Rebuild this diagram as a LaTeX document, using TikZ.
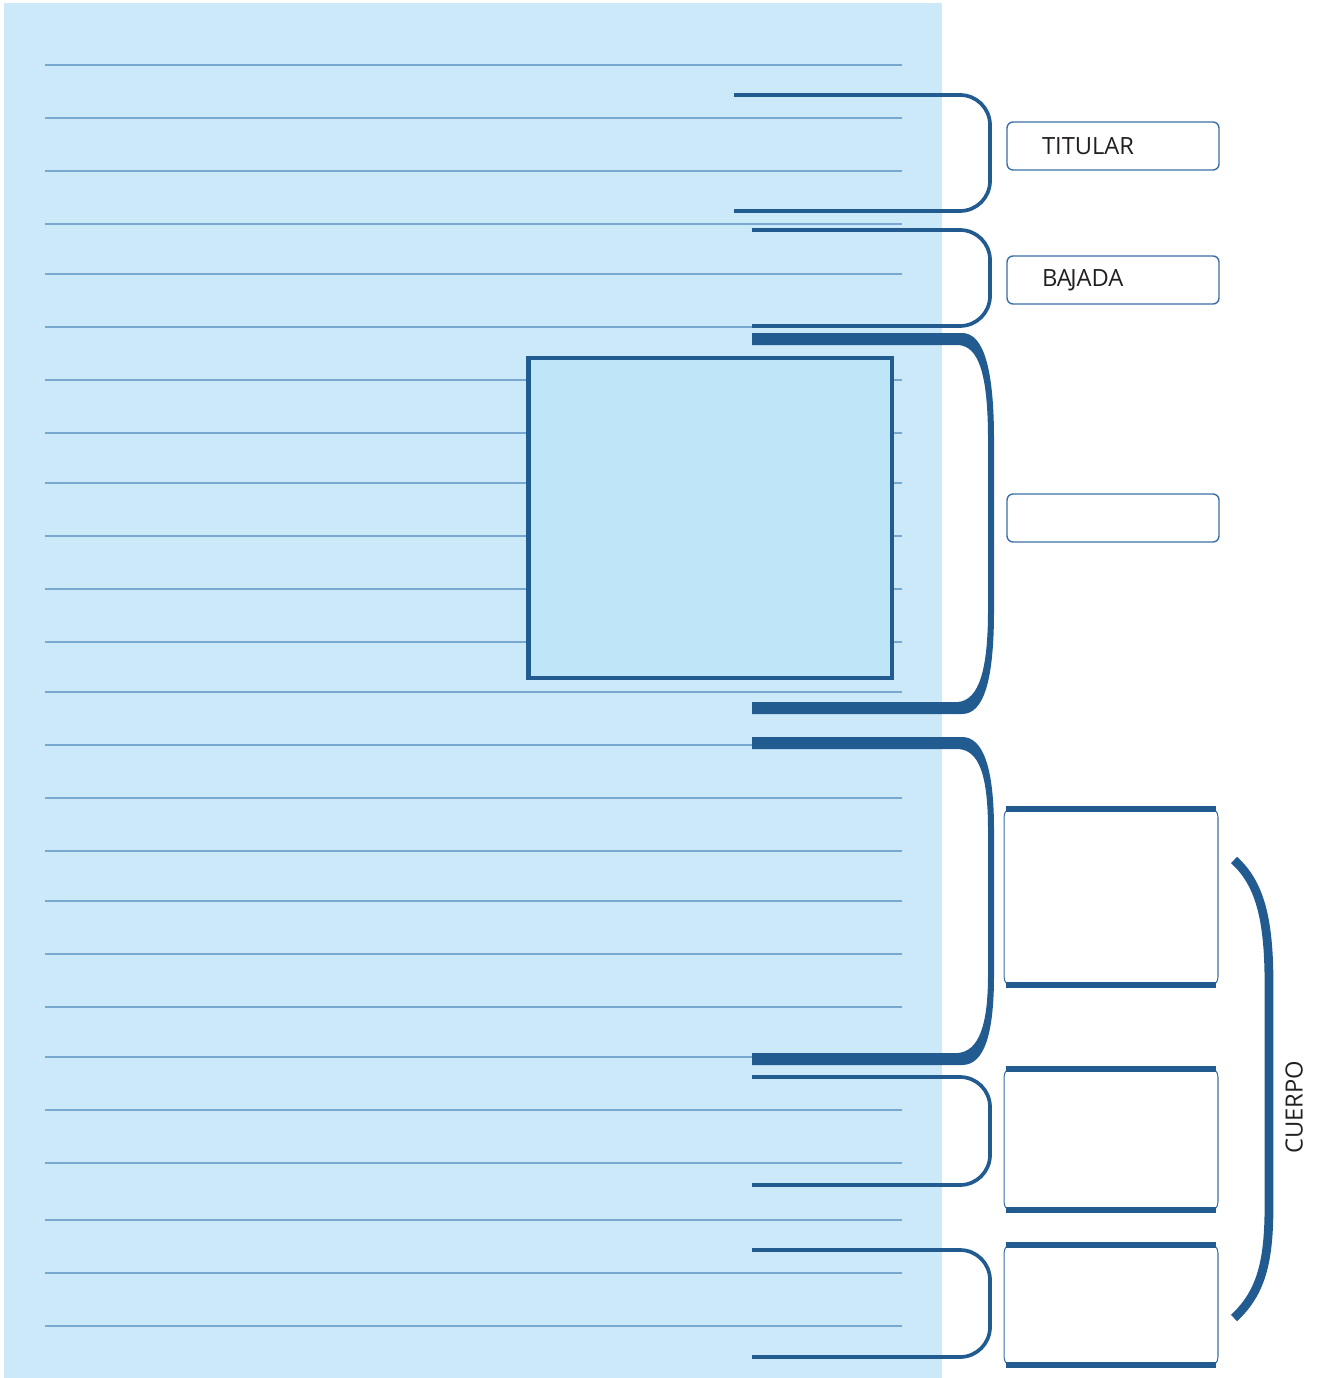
\documentclass[tikz,border=0pt]{standalone}
\usepackage{xcolor}
\usepackage{fontspec}
\setmainfont{Open Sans}
\usepackage{tikz}
\usetikzlibrary{
    positioning
}

\definecolor{sheetblue}{HTML}{CBE9F9}
\definecolor{ruleblue}{HTML}{78A8D0}
\definecolor{darkblue}{HTML}{215B8F}
\definecolor{photoblue}{HTML}{BEE6F8}
\definecolor{boxblue}{HTML}{3B6FA6}
\definecolor{textgray}{HTML}{231F20}

\begin{document}
\begin{tikzpicture}[
    x=0.02cm, y=-0.02cm,
    rule/.style={
        draw=ruleblue,
        line width=1.4pt
    },
    brace/.style={
        draw=darkblue,
        line width=2.1pt,
        rounded corners=0.6cm
    },
    labelbox/.style={
        draw=boxblue,
        line width=0.8pt,
        rounded corners=0.12cm,
        minimum height=0.96cm,
        text width=2.84cm,
        inner xsep=0.7cm,
        inner ysep=0pt,
        align=left,
        text=textgray,
        font=\fontsize{13.5}{16}\selectfont
    },
    bodybox/.style={
        draw=boxblue,
        line width=0.6pt,
        rounded corners=0.2cm,
        minimum width=4.28cm,
        inner sep=0pt
    },
    bar/.style={
        draw=darkblue,
        line width=3.4pt
    }
]

\useasboundingbox (0,0) rectangle (1322,1378);

% sheet with ruled lines
\fill[sheetblue] (4,3) rectangle (942,1378);
\foreach \y in {65,118,171,224,274,327,380,433,483,536,589,642,692,
                745,798,851,901,954,1007,1057,1110,1163,1220,1273,1326}
    \draw[rule] (45,\y) -- (902,\y);

% photo
\node[draw=darkblue, line width=2.8pt, fill=photoblue,
      minimum width=7.28cm, minimum height=6.4cm, inner sep=0pt] (photo) at (710,518) {};

% labels
\node[labelbox] (titular) at (1113,146) {TITULAR};
\node[labelbox] (bajada) at (1113,280) {BA\kern-0.07em JADA};
\node[labelbox] (foto) at (1113,518) {};

\node[bodybox, minimum height=3.6cm] (body1) at (1111,897) {};
\node[bodybox, minimum height=2.9cm] (body2) at (1111,1139.5) {};
\node[bodybox, minimum height=2.48cm] (body3) at (1111,1305) {};
\foreach \b in {body1,body2,body3} {
    \draw[bar] ([xshift=1.2pt,yshift=-1.5pt]\b.north west) -- ([xshift=-1.2pt,yshift=-1.5pt]\b.north east);
    \draw[bar] ([xshift=1.2pt,yshift=1.5pt]\b.south west) -- ([xshift=-1.2pt,yshift=1.5pt]\b.south east);
}

\node[rotate=90, text=textgray, font=\fontsize{13.5}{16}\selectfont] (cuerpo) at (1294,1107) {CUERPO};

% brackets
\draw[brace] (734,95) -- (990,95) -- (990,211) -- (734,211);
\draw[brace] (752,230) -- (990,230) -- (990,326) -- (752,326);
\draw[brace] (752,1077) -- (990,1077) -- (990,1185) -- (752,1185);
\draw[brace] (752,1250) -- (990,1250) -- (990,1357) -- (752,1357);

\fill[darkblue] (752,333) -- (962,333) .. controls (984,333) and (994,370) .. (994,440)
    -- (994,610) .. controls (994,680) and (984,714) .. (962,714) -- (752,714)
    -- (752,702) -- (958,702) .. controls (979,700) and (988,670) .. (988,610)
    -- (988,440) .. controls (988,375) and (979,346) .. (958,345) -- (752,345) -- cycle;

\fill[darkblue] (752,737) -- (962,737) .. controls (984,737) and (994,770) .. (994,830)
    -- (994,975) .. controls (994,1035) and (984,1065) .. (962,1065) -- (752,1065)
    -- (752,1053) -- (958,1053) .. controls (979,1051) and (988,1025) .. (988,975)
    -- (988,830) .. controls (988,775) and (979,750) .. (958,749) -- (752,749) -- cycle;

\draw[darkblue, line width=5pt] (1234,860) .. controls (1262,885) and (1269,925) .. (1269,985)
    -- (1269,1205) .. controls (1269,1260) and (1262,1292) .. (1234,1318);

\end{tikzpicture}
\end{document}
